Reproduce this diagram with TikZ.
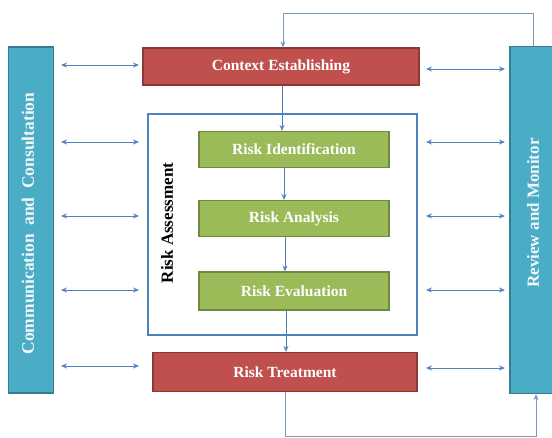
\documentclass[tikz,border=0pt]{standalone}
\usepackage{fontspec}
\setmainfont{Liberation Serif}
\usetikzlibrary{arrows.meta}
\definecolor{barfill}{HTML}{4BACC6}
\definecolor{barline}{HTML}{357D91}
\definecolor{redfill}{HTML}{C0504D}
\definecolor{redline}{HTML}{8C3836}
\definecolor{grnfill}{HTML}{9BBB59}
\definecolor{grnline}{HTML}{71893F}
\definecolor{lnblue}{HTML}{4F81BD}
\definecolor{fbline}{HTML}{7A98BE}
\tikzset{
  bar/.style={draw=barline, fill=barfill, line width=1.2pt, inner sep=0pt},
  bartext/.style={text=white!92!barfill, font=\bfseries\fontsize{17.5}{19}\selectfont, inner sep=0pt},
  redbox/.style={draw=redline, fill=redfill, line width=1.2pt, inner sep=0pt, text=white, font=\bfseries\fontsize{15.5}{17}\selectfont},
  grnbox/.style={draw=grnline, fill=grnfill, line width=1.2pt, inner sep=0pt, text=white, font=\bfseries\fontsize{15.5}{17}\selectfont},
  frame/.style={draw=lnblue, line width=1.8pt, inner sep=0pt},
  dbl/.style={draw=lnblue, line width=0.9pt, {Stealth[length=6pt,width=5pt]}-{Stealth[length=6pt,width=5pt]}},
  flow/.style={draw=lnblue, line width=0.9pt, -{Stealth[length=6pt,width=5pt]}},
  fb/.style={draw=fbline, line width=0.9pt},
}
\begin{document}
\begin{tikzpicture}[x=1pt,y=-1pt]
\useasboundingbox (0,0) rectangle (552,437);
% side bars
\node[bar, minimum width=45, minimum height=346] (L) at (31,220) {};
\node[bartext, rotate=90] (Lt) at (28,223.5) {Communication\hspace{4pt} and\hspace{4pt} Consultation};
\node[bar, minimum width=46, minimum height=347] (R) at (533,220) {};
\node[bartext, font=\bfseries\fontsize{17}{19}\selectfont, rotate=90] (Rt) at (533,213) {Review and Monitor};
% frame
\node[frame, minimum width=269, minimum height=221] (RA) at (282.5,224.5) {};
\node[font=\bfseries\fontsize{17}{19}\selectfont, rotate=90, inner sep=0pt] (RAt) at (167,223) {Risk Assessment};
% boxes
\node[redbox, minimum width=276, minimum height=37] (CE) at (281,66.5) {Context Establishing};
\node[grnbox, minimum width=190, minimum height=36] (RI) at (294,149.5) {Risk Identification};
\node[grnbox, minimum width=190, minimum height=36] (RAn) at (294,218.5) {Risk Analysis};
\node[grnbox, minimum width=190, minimum height=38] (RE) at (294,291) {Risk Evaluation};
\node[redbox, minimum width=264, minimum height=39] (RT) at (285,372) {Risk Treatment};
% vertical flow
\draw[flow] (CE.south -| 282,0) -- (RI.north -| 282,0);
\draw[flow] (RI.south -| 284,0) -- (RAn.north -| 284,0);
\draw[flow] (RAn.south -| 285,0) -- (RE.north -| 285,0);
\draw[flow] (RE.south -| 286,0) -- (RT.north -| 286,0);
% feedback loops
\draw[fb, -{Stealth[length=6pt,width=5pt]}] (R.north -| 533,0) -- (533,13) -- (283,13) -- (CE.north -| 283,0);
\draw[fb, -{Stealth[length=6pt,width=5pt]}] (RT.south -| 285,0) -- (285,436) -- (536,436) -- (R.south -| 536,0);
% double arrows left
\foreach \n/\y in {a/65,b/142,c/216,d/290,e/366}{
  \coordinate (la\n) at (61,\y);
  \coordinate (lb\n) at (139,\y);
  \draw[dbl] (la\n) -- (lb\n);
}
% double arrows right
\foreach \n/\y in {a/69,b/142,c/216,d/290,e/368}{
  \coordinate (ra\n) at (426,\y);
  \coordinate (rb\n) at (505,\y);
  \draw[dbl] (ra\n) -- (rb\n);
}
\end{tikzpicture}
\end{document}
